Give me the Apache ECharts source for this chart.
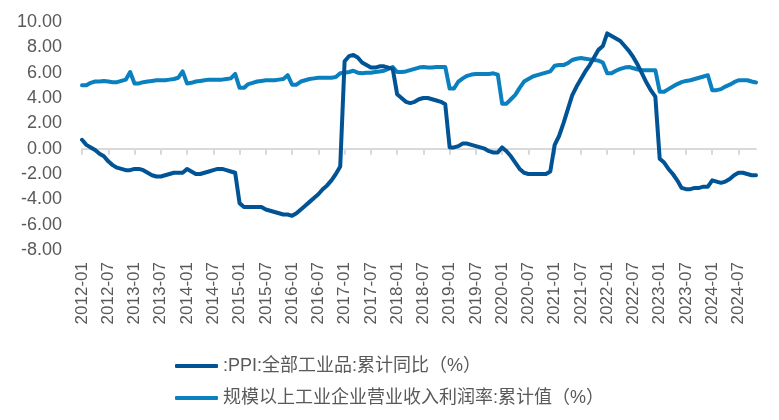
<!DOCTYPE html>
<html>
<head>
<meta charset="utf-8">
<script src="https://cdn.jsdelivr.net/npm/echarts@6/dist/echarts.min.js"></script>
<style>html,body{margin:0;padding:0;background:#fff;}#c{width:779px;height:420px;}</style>
</head>
<body>
<div id="c"></div>
<script>
// PPI: 全部工业品 累计同比 (%), monthly 2012-01 .. 2024-11
var ppi2012 = [0.7, 0.3, 0.1, -0.1, -0.4, -0.6, -1.0, -1.3, -1.5, -1.6, -1.7, -1.7];
var ppi2013 = [-1.6, -1.6, -1.7, -1.9, -2.1, -2.2, -2.2, -2.1, -2.0, -1.9, -1.9, -1.9];
var ppi2014 = [-1.6, -1.8, -2.0, -2.0, -1.9, -1.8, -1.7, -1.6, -1.6, -1.7, -1.8, -1.9];
var ppi2015 = [-4.3, -4.6, -4.6, -4.6, -4.6, -4.6, -4.8, -4.9, -5.0, -5.1, -5.2, -5.2];
var ppi2016 = [-5.3, -5.1, -4.8, -4.5, -4.2, -3.9, -3.6, -3.2, -2.9, -2.5, -2.0, -1.4];
var ppi2017 = [6.9, 7.3, 7.4, 7.2, 6.8, 6.6, 6.4, 6.4, 6.5, 6.5, 6.4, 6.3];
var ppi2018 = [4.3, 4.0, 3.7, 3.6, 3.7, 3.9, 4.0, 4.0, 3.9, 3.8, 3.7, 3.5];
var ppi2019 = [0.1, 0.1, 0.2, 0.4, 0.4, 0.3, 0.2, 0.1, 0.0, -0.2, -0.3, -0.3];
var ppi2020 = [0.1, -0.2, -0.6, -1.1, -1.6, -1.9, -2.0, -2.0, -2.0, -2.0, -2.0, -1.8];
var ppi2021 = [0.3, 1.0, 2.0, 3.1, 4.2, 4.9, 5.5, 6.1, 6.6, 7.2, 7.8, 8.1];
var ppi2022 = [9.1, 8.9, 8.7, 8.5, 8.1, 7.7, 7.2, 6.6, 5.9, 5.2, 4.6, 4.1];
var ppi2023 = [-0.8, -1.1, -1.6, -2.0, -2.5, -3.1, -3.2, -3.2, -3.1, -3.1, -3.0, -3.0];
var ppi2024 = [-2.5, -2.6, -2.7, -2.6, -2.4, -2.1, -1.9, -1.9, -2.0, -2.1, -2.1];

// 规模以上工业企业营业收入利润率: 累计值 (%)
var pm2012 = [5.0, 5.0, 5.2, 5.3, 5.3, 5.35, 5.3, 5.25, 5.25, 5.35, 5.45, 6.05];
var pm2013 = [5.15, 5.15, 5.25, 5.3, 5.35, 5.4, 5.4, 5.4, 5.45, 5.5, 5.6, 6.1];
var pm2014 = [5.15, 5.2, 5.3, 5.35, 5.4, 5.45, 5.45, 5.45, 5.45, 5.5, 5.55, 5.9];
var pm2015 = [4.8, 4.8, 5.1, 5.2, 5.3, 5.35, 5.4, 5.4, 5.4, 5.45, 5.5, 5.8];
var pm2016 = [5.05, 5.05, 5.3, 5.4, 5.5, 5.55, 5.6, 5.6, 5.6, 5.6, 5.65, 5.95];
var pm2017 = [6.0, 6.05, 6.15, 6.0, 5.95, 6.0, 6.0, 6.05, 6.1, 6.15, 6.3, 6.45];
var pm2018 = [6.05, 6.05, 6.1, 6.2, 6.3, 6.4, 6.45, 6.4, 6.4, 6.45, 6.45, 6.45];
var pm2019 = [4.75, 4.75, 5.3, 5.55, 5.75, 5.85, 5.9, 5.9, 5.9, 5.9, 5.95, 5.85];
var pm2020 = [3.55, 3.55, 3.9, 4.25, 4.8, 5.3, 5.5, 5.7, 5.8, 5.9, 6.0, 6.1];
var pm2021 = [6.55, 6.6, 6.6, 6.75, 7.0, 7.1, 7.15, 7.1, 7.05, 7.0, 6.95, 6.8];
var pm2022 = [5.95, 5.95, 6.15, 6.3, 6.4, 6.45, 6.35, 6.25, 6.2, 6.2, 6.2, 6.2];
var pm2023 = [4.5, 4.5, 4.7, 4.9, 5.1, 5.25, 5.35, 5.4, 5.5, 5.6, 5.7, 5.8];
var pm2024 = [4.62, 4.62, 4.7, 4.9, 5.05, 5.25, 5.4, 5.4, 5.4, 5.3, 5.23];

var years = [2012, 2013, 2014, 2015, 2016, 2017, 2018, 2019, 2020, 2021, 2022, 2023, 2024];
var monthsInLastYear = 11;
var seriesNames = [':PPI:全部工业品:累计同比（%）', '规模以上工业企业营业收入利润率:累计值（%）'];
var yTicks = { min: -8, max: 10, interval: 2 };

var categories = [];
years.forEach(function (y, k) {
  var n = (k === years.length - 1) ? monthsInLastYear : 12;
  for (var m = 1; m <= n; m++) categories.push(y + '-' + (m < 10 ? '0' + m : m));
});
var ppi = [].concat(ppi2012, ppi2013, ppi2014, ppi2015, ppi2016, ppi2017, ppi2018, ppi2019, ppi2020, ppi2021, ppi2022, ppi2023, ppi2024);
var pm = [].concat(pm2012, pm2013, pm2014, pm2015, pm2016, pm2017, pm2018, pm2019, pm2020, pm2021, pm2022, pm2023, pm2024);

var FONT = '"Liberation Sans", Arial, "Noto Sans CJK SC", sans-serif';
var TXT = '#595959';
var chart = echarts.init(document.getElementById('c'), null, { renderer: 'canvas' });
chart.setOption({
  animation: false,
  textStyle: { fontFamily: FONT },
  grid: { left: 82, right: 23, top: 22, bottom: 170, containLabel: false },
  legend: {
    orient: 'vertical', left: 170, top: 351,
    icon: 'roundRect', itemWidth: 43, itemHeight: 4, itemGap: 12,
    textStyle: { fontSize: 18, color: TXT, fontFamily: FONT, lineHeight: 20 },
    data: seriesNames
  },
  xAxis: [{
    type: 'category', data: categories, boundaryGap: false, position: 'bottom',
    axisLine: { show: false, onZero: false },
    axisTick: { show: false },
    axisLabel: { rotate: 90, interval: 5, fontSize: 17, color: TXT, margin: 12, fontFamily: FONT },
    splitLine: { show: false }
  }, {
    type: 'category', data: categories, boundaryGap: false, position: 'bottom',
    axisLine: { show: true, onZero: true, lineStyle: { color: '#D9D9D9', width: 2 } },
    axisTick: { show: true, interval: 5, length: 6, lineStyle: { color: '#D9D9D9', width: 2 } },
    axisLabel: { show: false },
    splitLine: { show: false }
  }],
  yAxis: {
    type: 'value', min: yTicks.min, max: yTicks.max, interval: yTicks.interval,
    axisLine: { show: false }, axisTick: { show: false }, splitLine: { show: false },
    axisLabel: { fontSize: 18, color: TXT, margin: 20, fontFamily: FONT,
      formatter: function (v) { return v.toFixed(2); } }
  },
  series: [{
    name: seriesNames[0], type: 'line', data: ppi, xAxisIndex: 0,
    showSymbol: false, symbol: 'none', smooth: false,
    lineStyle: { color: '#005496', width: 4, cap: 'round', join: 'round' },
    itemStyle: { color: '#005496' }, z: 3
  }, {
    name: seriesNames[1], type: 'line', data: pm, xAxisIndex: 0,
    showSymbol: false, symbol: 'none', smooth: false,
    lineStyle: { color: '#0B80BE', width: 4, cap: 'round', join: 'round' },
    itemStyle: { color: '#0B80BE' }, z: 2
  }]
});
</script>
</body>
</html>
